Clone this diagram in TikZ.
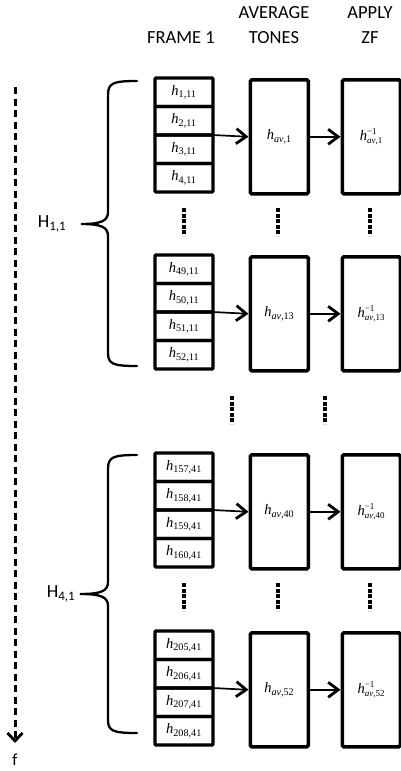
\documentclass[tikz,border=0pt]{standalone}
\usepackage{fontspec}
\setmainfont{Carlito}
\newfontfamily\tnr{Liberation Serif}
\usetikzlibrary{arrows.meta}
\newcommand\hh[1]{{\tnr\fontsize{14.5}{15}\selectfont\textit{h}\textsubscript{#1}}}
\newcommand\hav[1]{{\tnr\fontsize{14.5}{15}\selectfont\textit{h}\textsubscript{\textit{av},#1}}}
\newcommand\hinv[1]{{\tnr\fontsize{14.5}{15}\selectfont$\hbox{\textit{h}}^{\hbox{\fontsize{9}{10}\selectfont\char"2212 1}}_{\hbox{\fontsize{9}{10}\selectfont\textit{av},#1}}$}}
\tikzset{
  cell/.style={draw, line width=3.4pt, rounded corners=1pt, minimum width=58pt, minimum height=28.5pt, inner sep=0pt, outer sep=0pt, anchor=north west},
  bigbox/.style={draw, line width=3.6pt, rounded corners=1.5pt, minimum width=58pt, minimum height=114pt, inner sep=0pt, anchor=north west},
  arr/.style={line width=1.7pt, -{Straight Barb[length=10pt,width=15pt,line width=2.8pt]}},
  dotcol/.style={line width=4.3pt, dash pattern=on 4pt off 1.6pt},
  brace/.style={line width=2.3pt, line cap=round},
  head/.style={font=\fontsize{18.5}{20}\selectfont, inner sep=0pt},
  hlab/.style={font=\fontsize{18.5}{20}\selectfont, inner sep=0pt},
}
\begin{document}
\begin{tikzpicture}[x=1pt,y=-1pt]
\useasboundingbox (0,0) rectangle (400,771);
% headings
\node[head] (t1) at (181,38) {FRAME 1};
\node[head] (t2a) at (274,13) {AVERAGE};
\node[head] (t2b) at (274,38) {TONES};
\node[head] (t3a) at (370,13) {APPLY};
\node[head] (t3b) at (370,38) {ZF};
% groups
\foreach \g/\T/\ia/\ib/\ic/\id/\ha in {
  1/78/{1,11}/{2,11}/{3,11}/{4,11}/1,
  2/255/{49,11}/{50,11}/{51,11}/{52,11}/13,
  3/453/{157,41}/{158,41}/{159,41}/{160,41}/40,
  4/631/{205,41}/{206,41}/{207,41}/{208,41}/52}{
  \node[cell] (c\g a) at (155,\T) {\hh{\ia}};
  \node[cell] (c\g b) at (155,\T+28.5) {\hh{\ib}};
  \node[cell] (c\g c) at (155,\T+57) {\hh{\ic}};
  \node[cell] (c\g d) at (155,\T+85.5) {\hh{\id}};
  \node[bigbox] (a\g) at (248.5,\T) {\hav{\ha}};
  \node[bigbox] (z\g) at (340.5,\T) {\hinv{\ha}};
  \draw[arr] (c\g b.south east) -- (a\g.west);
  \draw[arr] (a\g.east) -- (z\g.west);
}
% vertical dots
\foreach \x in {184,278,370}{
  \draw[dotcol] (\x,208) -- (\x,236);
  \draw[dotcol] (\x,583) -- (\x,611);
}
\foreach \x in {232,325}{
  \draw[dotcol] (\x,396) -- (\x,424);
}
% braces
\coordinate (b1tip) at (81,224);
\coordinate (b2tip) at (80,594);
\draw[brace] (137,81) .. controls (113,81) and (108,83) .. (108,95) -- (108,212)
  .. controls (108,221) and (101,224) .. (b1tip)
  .. controls (101,224) and (108,227) .. (108,236) -- (108,353)
  .. controls (108,364) and (113,366) .. (137,366);
\draw[brace] (137,455) .. controls (113,455) and (108,457) .. (108,469) -- (108,582)
  .. controls (108,591) and (101,594) .. (b2tip)
  .. controls (101,594) and (108,597) .. (108,606) -- (108,720)
  .. controls (108,731) and (113,733) .. (137,733);
\node[hlab] (H1) at (52,224) {H\textsubscript{1,1}};
\node[hlab] (H4) at (61,594) {H\textsubscript{4,1}};
% frequency axis
\coordinate (ftop) at (15,87);
\node[font=\fontsize{17}{18}\selectfont, inner sep=0pt] (f) at (15,760) {f};
\draw[line width=3pt, dash pattern=on 7pt off 4.5pt, -{Straight Barb[length=8pt,width=15pt,line width=2.8pt]}] (ftop) -- (15,743);
\end{tikzpicture}
\end{document}
